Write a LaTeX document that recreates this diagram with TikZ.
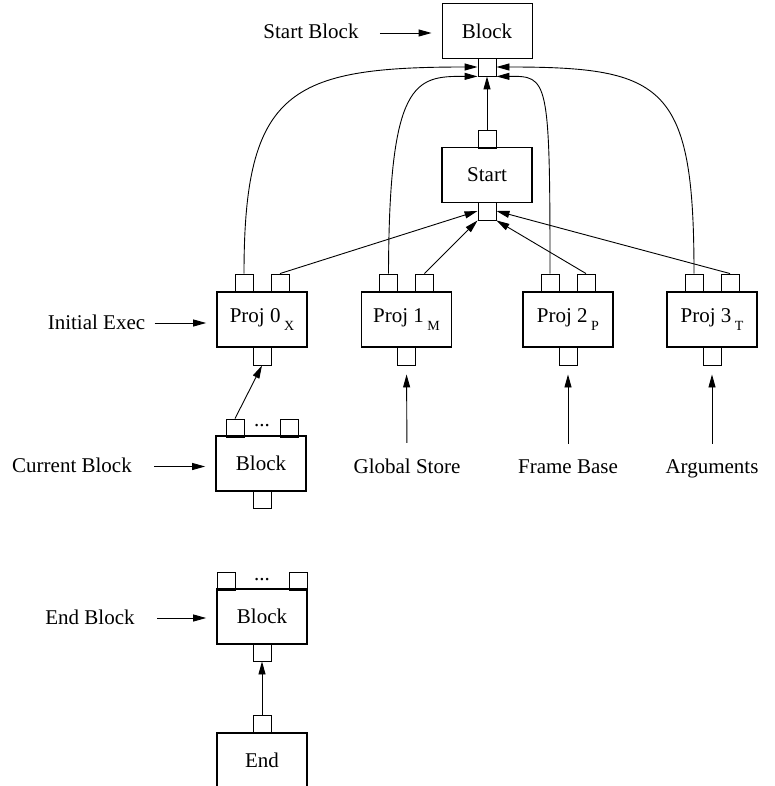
\documentclass[tikz,border=0pt]{standalone}
\usepackage{fontspec}
\setmainfont{Liberation Serif}
\usetikzlibrary{arrows.meta}

\newcommand{\projsub}[1]{\,\raisebox{-0.4em}{\fontsize{14}{14}\selectfont #1}}

\tikzset{
note/.style={
  rectangle,
  draw=none,
  text centered,
  inner sep=0pt,
  anchor=base,
  font=\fontsize{21}{25}\selectfont,
},
box/.style={
  rectangle,
  draw,
  line width=1.7pt,
  minimum width=90pt,
  minimum height=55pt,
  inner sep=0pt,
  font=\fontsize{21}{25}\selectfont,
},
thinbox/.style={box, line width=0.9pt},
port/.style={
  rectangle,
  draw,
  line width=0.9pt,
  minimum size=18pt,
  inner sep=0pt,
},
}

\begin{document}
\begin{tikzpicture}[x=1pt, y=-1pt, line width=0.9pt, >={Triangle[length=13pt,width=7pt]}]
\useasboundingbox (0,0) rectangle (774,786);

%top block and start
\node[thinbox](block) at (487,31) {Block};
\node[port](blockin) at (487,67) {};
\node[box](start) at (487,175) {Start};
\node[port](startin) at (487,139) {};
\node[port](startout) at (487,211) {};

%projections
\node[box](proj0) at (262,319.5) {Proj 0\projsub{X}};
\node[port](p0l) at (244,283) {};
\node[port](p0r) at (280,283) {};
\node[port](p0o) at (262,356) {};
\node[box](proj1) at (406.5,319.5) {Proj 1\projsub{M}};
\node[port](p1l) at (388.5,283) {};
\node[port](p1r) at (424.5,283) {};
\node[port](p1o) at (406.5,356) {};
\node[box](proj2) at (568,319.5) {Proj 2\projsub{P}};
\node[port](p2l) at (550,283) {};
\node[port](p2r) at (586,283) {};
\node[port](p2o) at (568,356) {};
\node[box](proj3) at (712,319.5) {Proj 3\projsub{T}};
\node[port](p3l) at (694,283) {};
\node[port](p3r) at (730,283) {};
\node[port](p3o) at (712,356) {};

%current block
\node[box](current) at (261,463.5) {Block};
\node[port](cbl) at (235,428) {};
\node[port](cbr) at (289,428) {};
\node[port](cbo) at (262,499) {};
\node[note](cdots) at (262,426) {...};

%end block and end
\node[box](endblock) at (262,616.5) {Block};
\node[port](ebl) at (226,581) {};
\node[port](ebr) at (298,581) {};
\node[port](ebo) at (262,652) {};
\node[note](edots) at (262,580) {...};
\node[box](endnode) at (262,760.5) {End};
\node[port](endin) at (262,724) {};

%labels
\node[note](lstartblock) at (311,39) {Start Block};
\node[note](linit) at (96.5,329) {Initial Exec};
\node[note](lcurrent) at (72,472.5) {Current Block};
\node[note](lend) at (90,624) {End Block};
\node[note](lglobal) at (407,473) {Global Store};
\node[note](lframe) at (568,473) {Frame Base};
\node[note](largs) at (712,473) {Arguments};

\draw[->, shorten <=21pt, shorten >=10pt](lstartblock.base east) ++(0,-6) -- (block.west |- 0,33);
\draw[->, shorten <=9pt, shorten >=10pt](linit.base east) ++(0,-6) -- (proj0.west |- 0,323);
\draw[->, shorten <=22pt, shorten >=10pt](lcurrent.base east) ++(0,-6) -- (current.west |- 0,466.5);
\draw[->, shorten <=22pt, shorten >=10pt](lend.base east) ++(0,-6) -- (endblock.west |- 0,618);
\draw[->, shorten <=15pt, shorten >=9pt](lglobal.north) -- (p1o.south);
\draw[->, shorten <=15pt, shorten >=9pt](lframe.north) -- (p2o.south);
\draw[->, shorten <=15pt, shorten >=9pt](largs.north) -- (p3o.south);

%connections
\draw[->](p0l.north) .. controls (244,90) and (290,67) .. (blockin.west);
\draw[->](p1l.north) .. controls (389,80) and (415,76) .. (blockin.south west);
\draw[->](p2l.north) .. controls (550,78) and (548,76) .. (blockin.south east);
\draw[->](p3l.north) .. controls (694,85) and (665,67) .. (blockin.east);
\draw[->](p0r.north) -- (startout.west);
\draw[->](p1r.north) -- (startout.south west);
\draw[->](p2r.north) -- (startout.south east);
\draw[->](p3r.north) -- (startout.east);
\draw[->](startin) -- (blockin);
\draw[->](cbl.north) -- (p0o.south);
\draw[->](endin) -- (ebo);

\end{tikzpicture}
\end{document}
